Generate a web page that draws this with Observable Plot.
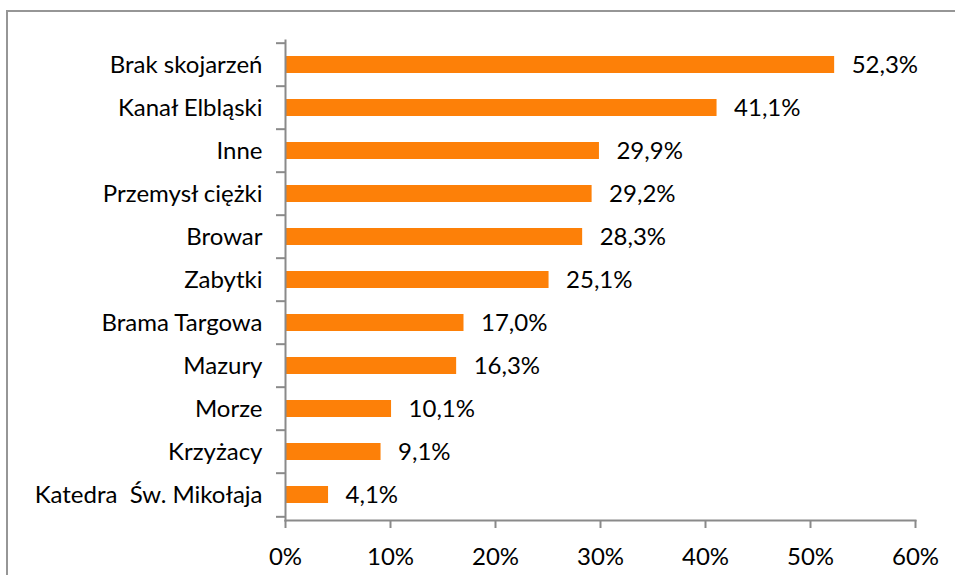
<!DOCTYPE html>
<html>
<head>
<meta charset="utf-8">
<script src="https://cdn.jsdelivr.net/npm/d3@7"></script>
<script src="https://cdn.jsdelivr.net/npm/@observablehq/plot@0.6"></script>
<style>
  html, body { margin: 0; padding: 0; background: #fff; }
  #wrap { position: relative; width: 955px; height: 575px; overflow: hidden; }
  #frame { position: absolute; left: 6px; top: 10px; width: 1000px; height: 600px; border: 2px solid #969696; box-sizing: border-box; pointer-events: none; }
  svg text { white-space: pre; }
</style>
</head>
<body>
<div id="wrap"><div id="frame"></div></div>
<script>
const categories = ["Brak skojarzeń", "Kanał Elbląski", "Inne", "Przemysł ciężki", "Browar", "Zabytki", "Brama Targowa", "Mazury", "Morze", "Krzyżacy", "Katedra  Św. Mikołaja"];
const values = [52.3, 41.1, 29.9, 29.2, 28.3, 25.1, 17.0, 16.3, 10.1, 9.1, 4.1];
const xTicks = [0, 10, 20, 30, 40, 50, 60];

const data = categories.map((c, i) => ({category: c, value: values[i]}));
const fmt = v => v.toFixed(1).replace(".", ",") + "%";

const H = 575, mt = 40, mb = 55;
const step = (H - mt - mb) / categories.length;
const axisColor = "#8a8a8a";
const font = "Lato, 'Open Sans', sans-serif";
const fs = 24;

const chart = Plot.plot({
  width: 955,
  height: H,
  marginLeft: 285,
  marginRight: 40,
  marginTop: mt,
  marginBottom: mb,
  style: {fontFamily: font, fontSize: fs + "px", color: "#000", background: "transparent"},
  x: {domain: [0, 60], ticks: xTicks, label: null},
  y: {domain: categories, paddingInner: 0.6, paddingOuter: 0.3, label: null},
  marks: [
    Plot.barX(data, {x: "value", y: "category", fill: "#fd8008"}),
    Plot.text(data, {x: "value", y: "category", text: d => fmt(d.value), textAnchor: "start", dx: 17, fontSize: fs, fill: "#000"}),
    Plot.axisY({tickSize: 0, tickPadding: 23, fontSize: fs, fill: "#000", label: null}),
    Plot.axisY({text: null, tickSize: 9, dy: -step / 2, stroke: axisColor, strokeWidth: 2, label: null}),
    Plot.axisY({ticks: [categories[categories.length - 1]], text: null, tickSize: 9, dy: step / 2, stroke: axisColor, strokeWidth: 2, label: null}),
    Plot.axisX({ticks: xTicks, tickFormat: d => d + "%", tickSize: 8, tickPadding: 19, fontSize: fs, fill: "#000", stroke: axisColor, strokeWidth: 2, label: null}),
    Plot.frame({anchor: "left", stroke: axisColor, strokeWidth: 2}),
    Plot.frame({anchor: "bottom", stroke: axisColor, strokeWidth: 2})
  ]
});
document.getElementById("wrap").prepend(chart);
</script>
</body>
</html>
